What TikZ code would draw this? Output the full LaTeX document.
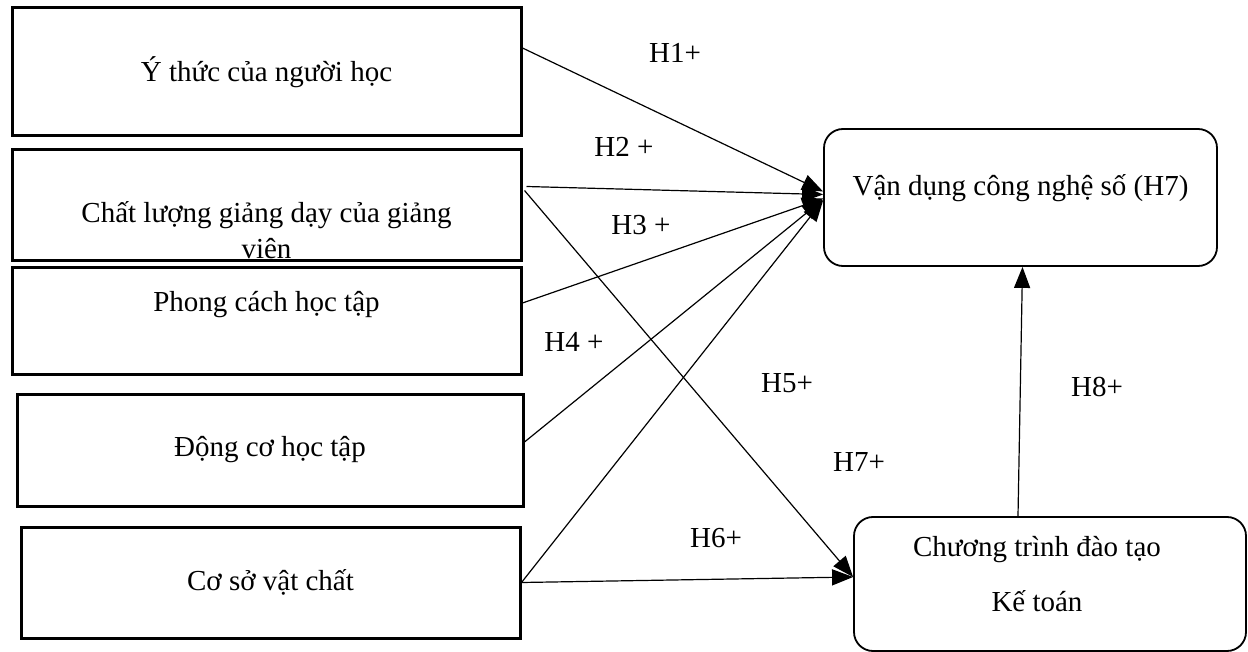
\documentclass[tikz,border=0pt]{standalone}
\usepackage{fontspec}
\setmainfont{Liberation Serif}
\usetikzlibrary{arrows.meta}

\begin{document}
\begin{tikzpicture}[x=1pt,y=-1pt,font=\fontsize{29}{36}\selectfont,
    factor/.style={draw,line width=3pt,inner sep=0pt},
    outcome/.style={draw,line width=1.8pt,rounded corners=19pt,inner sep=0pt},
    hpath/.style={line width=1.2pt,-{Triangle[length=21pt,width=16pt]}},
    hlabel/.style={inner sep=0pt}]
    \useasboundingbox (0,0) rectangle (1248,652);

    %factors
    \node[factor,minimum width=509pt,minimum height=128pt] (ythuc) at (266.5,72) {Ý thức của người học};
    \node[factor,minimum width=509pt,minimum height=111pt,
        label={[yshift=-25pt,align=center]center:Chất lượng giảng dạy của giảng\\viên}] (chatluong) at (266.5,205.5) {};
    \node[factor,minimum width=509pt,minimum height=106pt,
        label={[yshift=16pt]center:Phong cách học tập}] (phongcach) at (266.5,321) {};
    \node[factor,minimum width=506pt,minimum height=112pt] (dongco) at (270,450) {Động cơ học tập};
    \node[factor,minimum width=499pt,minimum height=111pt] (cosovc) at (270.5,582.5) {Cơ sở vật chất};

    %outcomes
    \node[outcome,minimum width=393pt,minimum height=137pt,
        label={[yshift=9pt]center:Vận dụng công nghệ số (H7)}] (vandung) at (1020.5,197.5) {};
    \node[outcome,minimum width=392pt,minimum height=134pt,
        label={[xshift=-13pt,yshift=10pt,align=center]center:Chương trình đào tạo\\[19pt]Kế toán}] (chuongtrinh) at (1050,584) {};

    %paths
    \draw[hpath] ([yshift=24pt]ythuc.east) -- ([yshift=6pt]vandung.west);
    \draw[hpath] ([xshift=4pt,yshift=19pt]chatluong.east) -- ([yshift=3pt]vandung.west);
    \draw[hpath] ([yshift=18pt]phongcach.east) -- ([yshift=-1pt]vandung.west);
    \draw[hpath] ([yshift=8pt]dongco.east) -- ([yshift=-2pt]vandung.west);
    \draw[hpath] (cosovc.east) -- ([yshift=-3pt]vandung.west);
    \draw[hpath] ([xshift=2pt,yshift=15pt]chatluong.east) -- ([yshift=7pt]chuongtrinh.west);
    \draw[hpath] (cosovc.east) -- ([yshift=7pt]chuongtrinh.west);
    \draw[hpath] ([xshift=-32pt]chuongtrinh.north) -- ([xshift=2pt]vandung.south);

    \node[hlabel] (h1) at (675,53) {H1+};
    \node[hlabel] (h2) at (624,147) {H2 +};
    \node[hlabel] (h3) at (641,225) {H3 +};
    \node[hlabel] (h4) at (574,342) {H4 +};
    \node[hlabel] (h5) at (787,383) {H5+};
    \node[hlabel] (h7) at (859,462) {H7+};
    \node[hlabel] (h6) at (716,538) {H6+};
    \node[hlabel] (h8) at (1097,387) {H8+};
\end{tikzpicture}
\end{document}
